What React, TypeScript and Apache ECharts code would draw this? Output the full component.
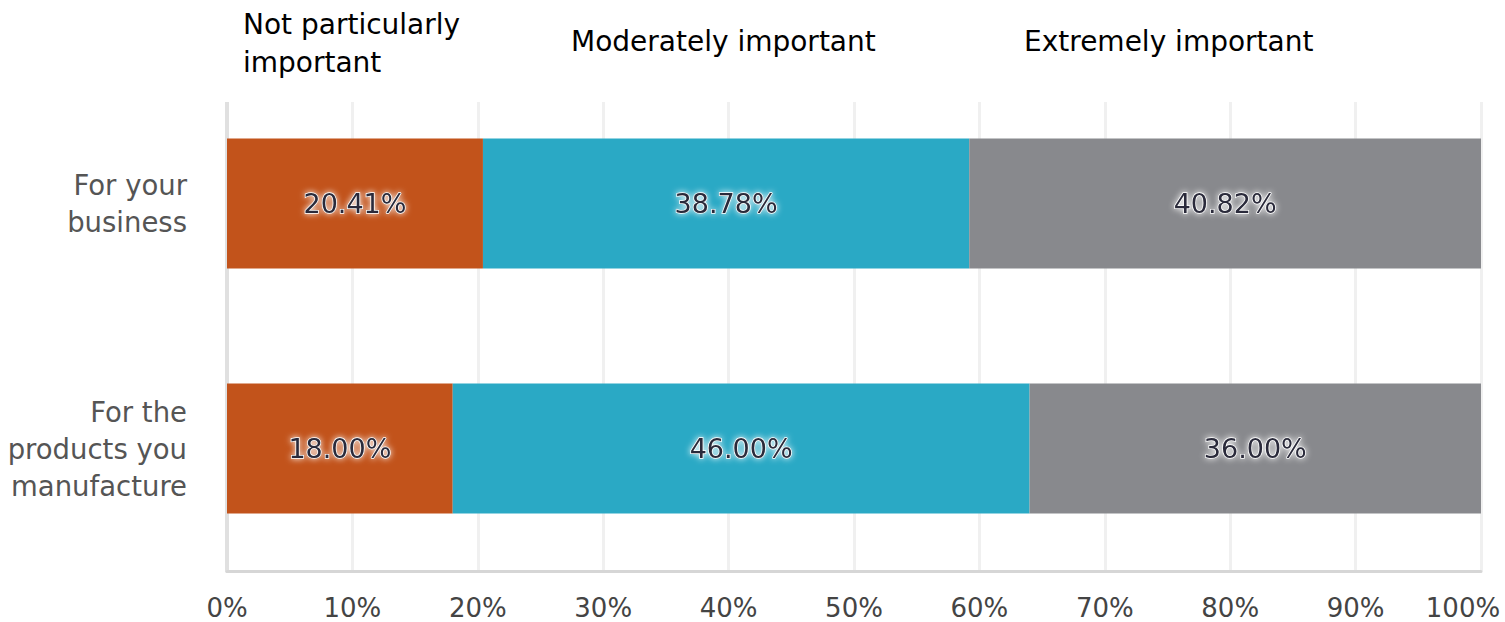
import React, { useEffect, useRef } from "react";
import * as echarts from "echarts";

const categories = ["For your\nbusiness", "For the\nproducts you\nmanufacture"];
const seriesNames = ["Not particularly\nimportant", "Moderately important", "Extremely important"];
const notParticularly = [20.41, 18.0];
const moderately = [38.78, 46.0];
const extremely = [40.82, 36.0];
const seriesColors = ["#C2531B", "#2AA9C5", "#88898D"];
const headerPositions = [
  { x: 243, y: 5 },
  { x: 571, y: 22 },
  { x: 1024, y: 22 },
];

const FONT = "'DejaVu Sans', Verdana, sans-serif";

export default function App() {
  const ref = useRef<HTMLDivElement>(null);

  useEffect(() => {
    if (!ref.current) return;
    const chart = echarts.init(ref.current, undefined, { renderer: "svg" });
    const values = [notParticularly, moderately, extremely];

    chart.setOption({
      animation: false,
      backgroundColor: "#ffffff",
      grid: {
        left: 227,
        right: 24,
        top: 81,
        bottom: 51,
        containLabel: false,
        outerBoundsMode: "none",
      },
      xAxis: {
        type: "value",
        min: 0,
        max: 100,
        interval: 10,
        axisLine: { show: true, lineStyle: { color: "#d6d6d6", width: 3 } },
        axisTick: { show: false },
        splitLine: { show: true, lineStyle: { color: "#f0f0f0", width: 3 } },
        axisLabel: {
          // the last label is nudged left so it stays inside the canvas
          formatter: (v: number) => (v === 100 ? `{last|${v}%}` : `${v}%`),
          color: "#444",
          fontFamily: FONT,
          fontSize: 26,
          margin: 24,
          rich: {
            last: {
              color: "#444",
              fontFamily: FONT,
              fontSize: 26,
              padding: [0, 36, 0, 0],
            },
          },
        },
      },
      yAxis: {
        type: "category",
        data: categories,
        inverse: true,
        axisLine: { show: true, lineStyle: { color: "#e0e0e0", width: 4 } },
        axisTick: { show: false },
        axisLabel: {
          color: "#555",
          fontFamily: FONT,
          fontSize: 27.5,
          lineHeight: 37,
          margin: 40,
          align: "right",
        },
      },
      series: seriesNames.map((name, i) => ({
        type: "bar",
        name,
        stack: "total",
        data: values[i],
        barWidth: 130,
        itemStyle: { color: seriesColors[i] },
        label: {
          show: true,
          position: "inside",
          formatter: (p: any) => `${Number(p.value).toFixed(2)}%`,
          color: "#2b2b3a",
          fontFamily: FONT,
          fontSize: 27,
          textBorderColor: "#ffffff",
          textBorderWidth: 1.5,
          textShadowColor: "#ffffff",
          textShadowBlur: 6,
        },
      })),
      graphic: [
        // trims the grid lines above the plotted band area
        {
          type: "rect",
          shape: { x: 215, y: 70, width: 1285, height: 32 },
          style: { fill: "#ffffff" },
          z: 50,
        },
        ...seriesNames.map((name, i) => ({
          type: "text",
          x: headerPositions[i].x,
          y: headerPositions[i].y,
          z: 60,
          style: {
            text: name,
            fill: "#000",
            font: `28px ${FONT}`,
            lineHeight: 38,
            textVerticalAlign: "top",
          },
        })),
      ],
    });

    return () => chart.dispose();
  }, []);

  return (
    <div
      ref={ref}
      style={{ position: "fixed", left: 0, top: 0, width: 1505, height: 622 }}
    />
  );
}
